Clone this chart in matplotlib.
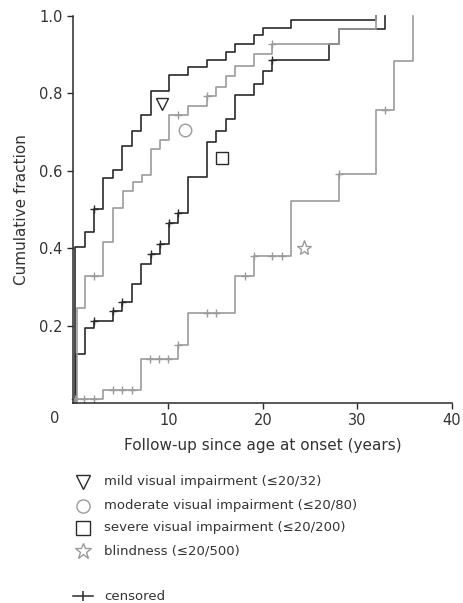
import matplotlib
matplotlib.use("Agg")
import matplotlib.pyplot as plt

plt.rcParams['font.family'] = ['DejaVu Sans']

# cumulative fraction curves (step times in years, level after the step)
mild_t = [0, 0.1, 1.15, 2.15, 3.1, 4.1, 5.1, 6.1, 7.1, 8.1, 10.1, 12.05, 14.05,
          16.05, 17.05, 19.05, 20.05, 23.0, 32.0]
mild_y = [0, 0.402, 0.443, 0.501, 0.582, 0.602, 0.665, 0.703, 0.744, 0.807, 0.847,
          0.867, 0.887, 0.907, 0.928, 0.950, 0.969, 0.989, 1.0]
mild_cens_t = [2.15]
mild_cens_y = [0.501]

moderate_t = [0, 0.3, 1.15, 3.1, 4.1, 5.15, 6.2, 7.15, 8.15, 9.1, 10.1, 12.1, 14.05,
              15.05, 16.05, 17.05, 19.0, 21.0, 28.0, 32.0]
moderate_y = [0, 0.245, 0.327, 0.415, 0.504, 0.547, 0.570, 0.590, 0.656, 0.679, 0.745,
              0.768, 0.793, 0.817, 0.844, 0.872, 0.903, 0.928, 0.967, 1.0]
moderate_cens_t = [2.12, 11.05, 14.05, 21.0]
moderate_cens_y = [0.327, 0.745, 0.793, 0.928]

severe_t = [0, 0.2, 1.15, 2.12, 4.1, 5.1, 6.1, 7.1, 8.1, 9.1, 10.1, 11.05, 12.05,
            14.05, 15.05, 16.05, 17.05, 19.05, 20.05, 21.0, 27.0, 28.0, 32.9]
severe_y = [0, 0.127, 0.193, 0.213, 0.238, 0.262, 0.308, 0.360, 0.386, 0.411, 0.465,
            0.492, 0.584, 0.674, 0.702, 0.735, 0.797, 0.823, 0.857, 0.887, 0.928,
            0.967, 1.0]
severe_cens_t = [2.12, 4.1, 5.1, 8.1, 9.1, 10.1, 11.05, 21.0]
severe_cens_y = [0.213, 0.238, 0.262, 0.386, 0.411, 0.465, 0.492, 0.887]

blind_t = [0, 0.1, 3.1, 7.1, 11.05, 12.1, 17.05, 19.05, 23.0, 28.0, 32.0, 33.9, 35.9]
blind_y = [0, 0.010, 0.034, 0.114, 0.151, 0.232, 0.329, 0.380, 0.521, 0.592, 0.758,
           0.883, 1.0]
blind_cens_t = [0.1, 1.1, 2.1, 4.1, 5.1, 6.1, 8.05, 9.05, 10.0, 11.05, 14.05, 15.0,
                18.1, 19.05, 21.0, 22.0, 28.0, 32.9]
blind_cens_y = [0.010, 0.010, 0.010, 0.034, 0.034, 0.034, 0.114, 0.114, 0.114, 0.151,
                0.232, 0.232, 0.329, 0.380, 0.380, 0.380, 0.592, 0.758]

# where each curve's symbol sits next to it
symbol_x = [9.3, 11.75, 15.7, 24.3]
symbol_y = [0.773, 0.705, 0.633, 0.400]

legend_labels = ["mild visual impairment (≤20/32)",
                 "moderate visual impairment (≤20/80)",
                 "severe visual impairment (≤20/200)",
                 "blindness (≤20/500)"]

dark = "#2a2a2a"
grey = "#9b9b9b"
txt = "#333333"
styles = [("v", dark), ("o", grey), ("s", dark), ("*", grey)]

fig = plt.figure(figsize=(4.64, 6.03), dpi=100)
ax = fig.add_axes([73 / 464, 1 - 403 / 603, 379 / 464, 387 / 603])

curves = [(severe_t, severe_y, severe_cens_t, severe_cens_y, dark),
          (mild_t, mild_y, mild_cens_t, mild_cens_y, dark),
          (blind_t, blind_y, blind_cens_t, blind_cens_y, grey),
          (moderate_t, moderate_y, moderate_cens_t, moderate_cens_y, grey)]
for t, y, ct, cy, c in curves:
    ax.step(t, y, where="post", color=c, lw=1.2, clip_on=False)
    ax.plot(ct, cy, ls="none", marker="+", ms=6, mew=1.0, color=c, clip_on=False)

for (m, c), sx, sy in zip(styles, symbol_x, symbol_y):
    ms = 11 if m == "*" else 9
    ax.plot(sx, sy, ls="none", marker=m, ms=ms, mfc="white", mec=c, mew=1.0)

ax.set_xlim(-0.1, 40)
ax.set_ylim(0, 1.0)
ax.set_xticks([10, 20, 30, 40])
ax.set_yticks([0.2, 0.4, 0.6, 0.8, 1.0])
ax.set_yticklabels(["0.2", "0.4", "0.6", "0.8", "1.0"])
ax.tick_params(length=4.5, width=1.0, color=dark, labelsize=10.5, labelcolor=txt, pad=3)
for s in ["top", "right"]:
    ax.spines[s].set_visible(False)
for s in ["left", "bottom"]:
    ax.spines[s].set_linewidth(1.1)
    ax.spines[s].set_color(dark)
ax.text(-2.0, -0.04, "0", ha="center", va="center", fontsize=10.5, color=txt, clip_on=False)
ax.set_xlabel("Follow-up since age at onset (years)", fontsize=11, color=txt, labelpad=7)
ax.set_ylabel("Cumulative fraction", fontsize=11, color=txt, labelpad=7)

# legend below the plot, in pixel coordinates of the figure
lg = fig.add_axes([0, 0, 1, 1])
lg.set_xlim(0, 464)
lg.set_ylim(603, 0)
lg.axis("off")
rows = [482, 505.5, 528, 551]
for (m, c), lab, ry in zip(styles, legend_labels, rows):
    ms = 12 if m == "*" else 9.5
    lg.plot(83, ry, ls="none", marker=m, ms=ms, mfc="white", mec=c, mew=1.0)
    lg.text(104, ry, lab, ha="left", va="center", fontsize=9.5, color=txt)
lg.plot([73, 93], [596, 596], color=dark, lw=1.1)
lg.plot(83, 596, ls="none", marker="|", ms=7, mew=1.1, color=dark)
lg.text(104, 596, "censored", ha="left", va="center", fontsize=9.5, color=txt)

fig.savefig("out.png", dpi=100)
